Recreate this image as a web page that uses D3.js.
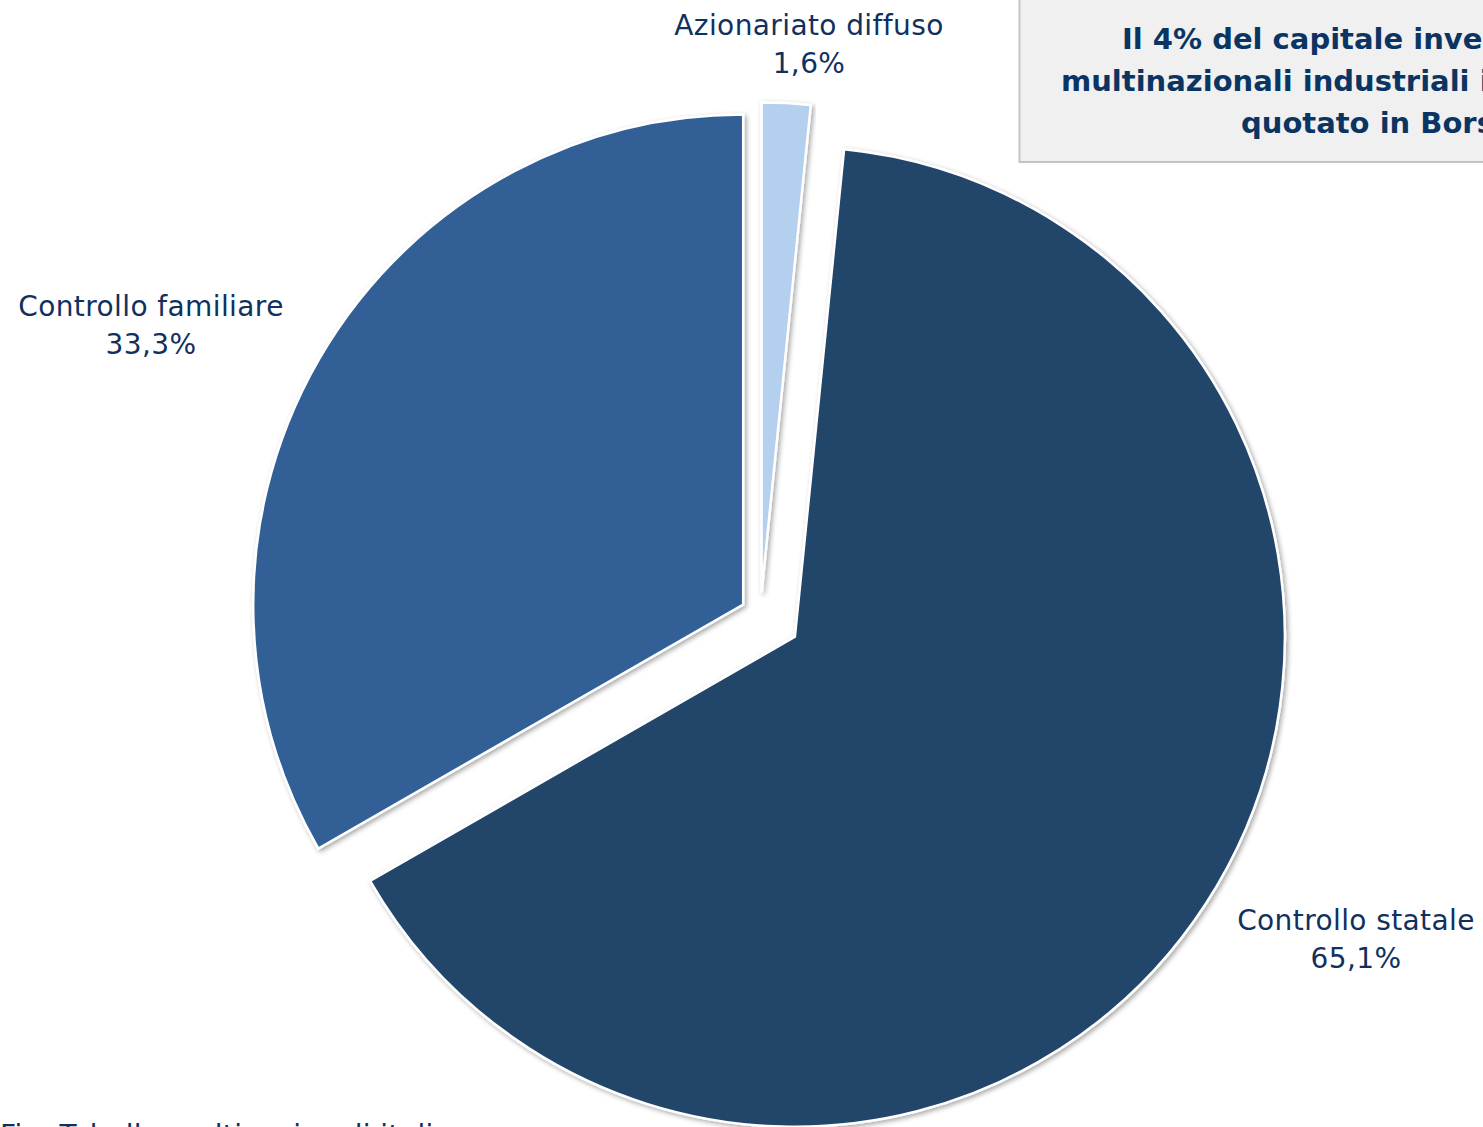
<html>
  <head>
    <title>Pie</title>
    <script src="https://d3js.org/d3.v7.min.js"></script>
    <style type="text/css">
      body { margin: 0; background: #fff; overflow: hidden; }
      .lbl { font-family: "DejaVu Sans", sans-serif; font-size: 28px; letter-spacing: 0.4px; fill: #10315e; }
      .ttl { font-family: "DejaVu Sans", sans-serif; font-size: 29px; font-weight: bold; fill: #0a3563; }
    </style>
  </head>
  <body>
    <svg id="chart" width="1483" height="1127"></svg>
  </body>
  <script type="text/javascript">
    // data
    var categories = ["Azionariato diffuso", "Controllo statale", "Controllo familiare"];
    var values = [1.6, 65.1, 33.3];
    var valueLabels = ["1,6%", "65,1%", "33,3%"];
    var titleLines = ["Il 4% del capitale investito nelle", "multinazionali industriali italiane", "quotato in Borsa"];

    // styles
    var colors = ["#b4d0ee", "#24446b", "#316196"];
    var explode = [22, 41, 20];
    var labelPos = [[809, 35], [1356, 930], [151, 316]];

    var svg = d3.select("#chart");
    var defs = svg.append("defs");
    var f = defs.append("filter").attr("id", "shadow")
      .attr("x", "-10%").attr("y", "-10%").attr("width", "120%").attr("height", "120%");
    f.append("feDropShadow").attr("dx", 2).attr("dy", 2).attr("stdDeviation", 2.5)
      .attr("flood-color", "#000").attr("flood-opacity", 0.35);

    var cx = 760.5, cy = 614.5, r = 490;

    var pie = d3.pie().sort(null).value(function(d) { return d; });
    var arc = d3.arc().innerRadius(0).outerRadius(r);
    var arcs = pie(values);

    svg.append("g").attr("transform", "translate(" + cx + "," + cy + ")")
      .selectAll("path").data(arcs).enter().append("path")
      .attr("transform", function(d, i) {
        var a = (d.startAngle + d.endAngle) / 2;
        return "translate(" + (Math.sin(a) * explode[i]) + "," + (-Math.cos(a) * explode[i]) + ")";
      })
      .attr("d", arc)
      .attr("fill", function(d, i) { return colors[i]; })
      .attr("stroke", "#fff")
      .attr("stroke-width", 2.5)
      .attr("filter", "url(#shadow)");

    // slice labels
    var lg = svg.append("g");
    categories.forEach(function(c, i) {
      var t = lg.append("text").attr("class", "lbl")
        .attr("text-anchor", "middle")
        .attr("x", labelPos[i][0]).attr("y", labelPos[i][1]);
      t.append("tspan").attr("x", labelPos[i][0]).text(c);
      t.append("tspan").attr("x", labelPos[i][0]).attr("dy", 38).text(valueLabels[i]);
    });

    // callout box (runs past the right edge, as in the source)
    svg.append("rect")
      .attr("x", 1019.5).attr("y", -5).attr("width", 520).attr("height", 167)
      .attr("fill", "#f0f0f0").attr("stroke", "#c4c4c4").attr("stroke-width", 2);
    var starts = [1122, 1061, 1241];
    titleLines.forEach(function(s, i) {
      svg.append("text").attr("class", "ttl")
        .attr("x", starts[i]).attr("y", 49 + i * 42)
        .text(s);
    });

    // footnote, cut at the bottom edge
    svg.append("text").attr("class", "lbl")
      .attr("x", 0).attr("y", 1145)
      .text("Fig. Tabella multinazionali italiane");
  </script>
</html>
